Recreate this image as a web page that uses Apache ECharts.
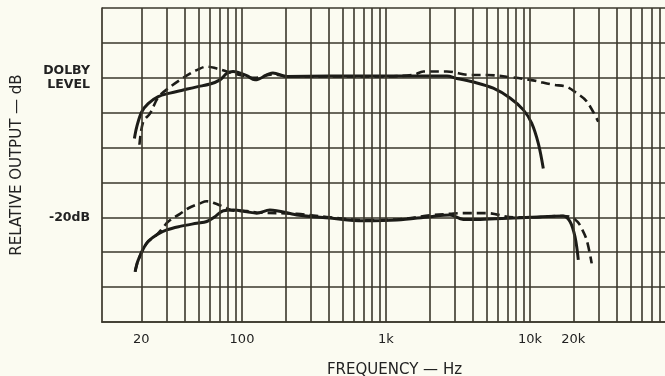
<!DOCTYPE html>
<html>
<head>
<meta charset="utf-8">
<script src="https://cdn.jsdelivr.net/npm/echarts@6/dist/echarts.min.js"></script>
<style>
html,body{margin:0;padding:0;background:#fbfbf1;}
#chart{width:665px;height:376px;}
</style>
</head>
<body>
<div id="chart"></div>
<script>
// Frequency (Hz) / level (dB re Dolby level)
var topSolidHz = [17.9,18.6,20.1,22.3,26.2,31.6,39.1,48.5,60,70.3,78.3,86.6,108,123,164,205,408,908,1540,2650,3100,4040,5560,7260,8990,10270,11420,12370];
var topSolidDb = [-8.7,-7.0,-4.9,-3.7,-2.7,-2.2,-1.75,-1.3,-0.9,-0.3,0.6,0.9,0.3,-0.3,0.7,0.2,0.25,0.25,0.25,0.25,-0.1,-0.6,-1.5,-2.9,-4.6,-6.5,-9.4,-13.0];

var topDashedHz = [19.4,20.6,23.0,26.2,30.8,37.1,43.5,48.5,56.9,64.9,78.3,96.8,123,164,205,408,908,1540,1820,2640,3830,5000,6890,10000,14500,18000,21100,24800,29800];
var topDashedDb = [-9.6,-6.3,-5.1,-2.8,-1.5,-0.3,0.6,1.1,1.6,1.4,0.9,0.4,0.0,0.5,0.2,0.2,0.2,0.4,0.9,0.9,0.4,0.4,0.15,-0.3,-1.0,-1.3,-2.2,-3.4,-6.3];

var botSolidHz = [18.1,19.05,21.8,25.6,30,37.1,48.5,56.9,64.9,74.2,87,108,126.5,156,240,408,692,1190,2020,2780,3440,4500,7660,10000,17000,18950,20540,21650];
var botSolidDb = [-27.8,-26.1,-23.7,-22.5,-21.8,-21.3,-20.85,-20.6,-19.9,-19.05,-18.95,-19.2,-19.4,-18.95,-19.65,-20.1,-20.5,-20.4,-19.9,-19.65,-20.3,-20.3,-20.1,-20.0,-19.8,-20.6,-22.8,-26.1];

var botDashedHz = [18.1,19.05,21.8,25.6,28,30.8,37.1,42.4,51.1,56.9,63.2,78.3,87,108,126.5,240,408,692,1190,2020,2780,3440,5000,7660,10000,17000,19500,21500,22860,24760,26820];
var botDashedDb = [-27.8,-26.1,-23.7,-22.5,-21.6,-20.6,-19.5,-18.7,-18.0,-17.7,-17.9,-18.7,-19.05,-19.1,-19.3,-19.5,-20.0,-20.4,-20.3,-19.7,-19.5,-19.4,-19.4,-20.0,-20.0,-19.8,-20.0,-20.7,-21.6,-23.25,-26.6];

// Axis ticks and labels
var xTickValues = [20,100,1000,10000,20000];
var xTickLabels = ['20','100','1k','10k','20k'];
var gridHz = [20,30,40,50,60,70,80,90,100,200,300,400,500,600,700,800,900,1000,2000,3000,4000,5000,6000,7000,8000,9000,10000,20000,30000,40000,50000,60000,70000,80000];
var yLabelValues = [0,-20];
var yLabelTexts = ['DOLBY\nLEVEL','-20dB'];

function pairs(xs, ys){ return xs.map(function(x,i){ return [x, ys[i]]; }); }

var ink = '#1c1c18';
var gridColor = '#3a372b';
var font = 'DejaVu Sans';

var chart = echarts.init(document.getElementById('chart'), null, {renderer:'canvas'});
chart.setOption({
  backgroundColor: '#fbfbf1',
  animation: false,
  grid: {left:102, right:0, top:8, bottom:54, outerBoundsMode:'none', containLabel:false},
  xAxis: {
    type: 'log', logBase: 10, min: 10.66, max: 86600,
    axisLine: {show:true, onZero:false, lineStyle:{color:gridColor, width:1.7}},
    axisTick: {show:false},
    splitLine: {show:false},
    minorSplitLine: {show:false},
    axisLabel: {
      show: true, customValues: xTickValues, margin: 11,
      color: '#222', fontFamily: font, fontSize: 13,
      formatter: function(v){
        var best = 0, d = Infinity;
        xTickValues.forEach(function(t,i){ var dd = Math.abs(Math.log(v/t)); if(dd<d){d=dd;best=i;} });
        return d < 0.01 ? xTickLabels[best] : '';
      }
    },
    name: 'FREQUENCY — Hz', nameLocation: 'middle', nameGap: 41,
    nameTextStyle: {color:'#222', fontFamily: font, fontSize: 15, padding:[0,0,0,22]}
  },
  yAxis: {
    type: 'value', min: -35, max: 10, interval: 5,
    axisLine: {show:true, onZero:false, lineStyle:{color:gridColor, width:1.7}},
    axisTick: {show:false},
    splitLine: {show:true, lineStyle:{color:gridColor, width:1.6}},
    axisLabel: {
      show: true, margin: 12, color:'#222', fontFamily: font, fontSize: 12.5, fontWeight:'bold', lineHeight: 14,
      formatter: function(v){ var i = yLabelValues.indexOf(Math.round(v)); return i >= 0 ? yLabelTexts[i] : ''; }
    },
    name: 'RELATIVE OUTPUT — dB', nameLocation: 'middle', nameRotate: 90, nameGap: 77,
    nameTextStyle: {color:'#222', fontFamily: font, fontSize: 15}
  },
  series: [
    {
      type: 'line', data: [], silent: true,
      markLine: {
        silent: true, symbol: ['none','none'], animation:false,
        label: {show:false},
        lineStyle: {type:'solid', color: gridColor, width: 1.6},
        data: gridHz.map(function(h){ return {xAxis: h}; })
      }
    },
    {type:'line', data: pairs(topSolidHz, topSolidDb), smooth:0.35, showSymbol:false, lineStyle:{color:ink, width:3}},
    {type:'line', data: pairs(botSolidHz, botSolidDb), smooth:0.35, showSymbol:false, lineStyle:{color:ink, width:3}},
    {type:'line', data: pairs(topDashedHz, topDashedDb), smooth:0.35, showSymbol:false, lineStyle:{color:ink, width:2.6, type:[9,5]}},
    {type:'line', data: pairs(botDashedHz, botDashedDb), smooth:0.35, showSymbol:false, lineStyle:{color:ink, width:2.6, type:[9,5]}}
  ]
});
</script>
</body>
</html>
